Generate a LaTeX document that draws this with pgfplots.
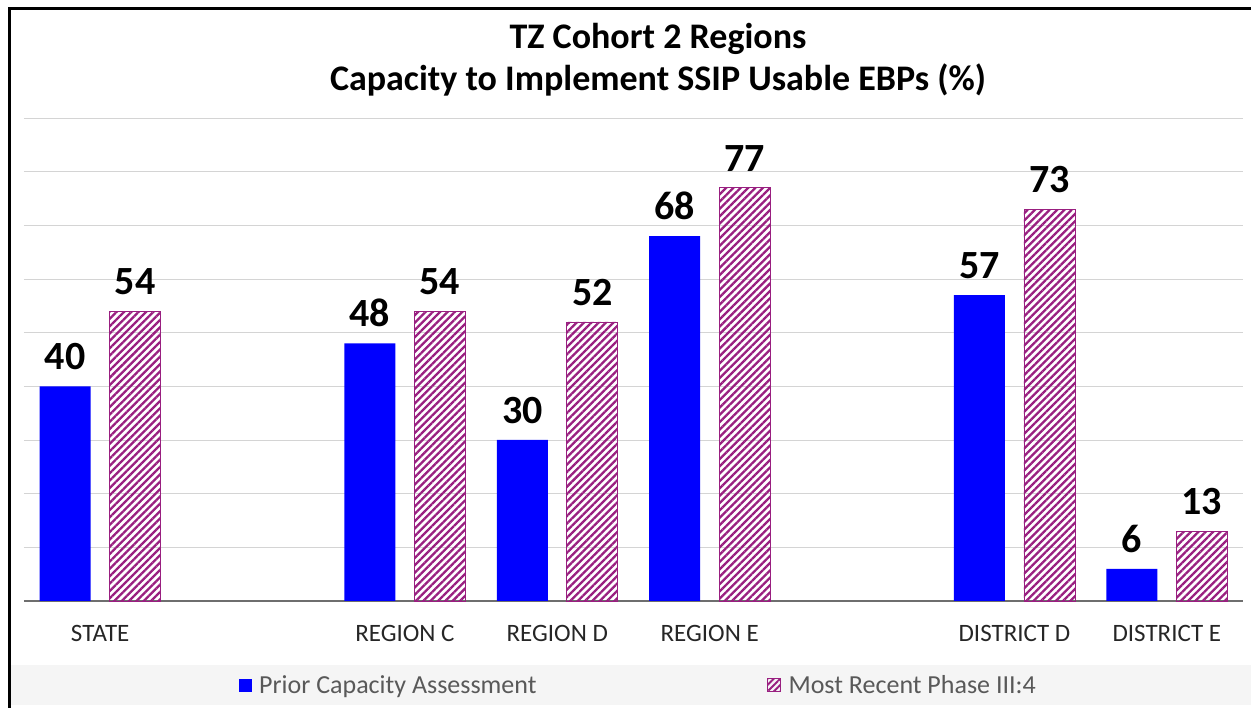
\documentclass[border=0pt]{standalone}
\usepackage{pgfplots}
\pgfplotsset{compat=1.18}
\usepackage{fontspec}
\setmainfont{Carlito}
\usetikzlibrary{patterns.meta}
\definecolor{barblue}{RGB}{0,0,255}
\definecolor{hatch}{RGB}{153,31,128}
\definecolor{legtext}{RGB}{89,89,89}
\definecolor{gridc}{RGB}{212,212,212}
\definecolor{axisc}{RGB}{110,110,110}
\definecolor{band}{RGB}{245,245,245}
\begin{document}
\begin{tikzpicture}[x=1pt,y=1pt]
\path[use as bounding box] (0,0) rectangle (1251,708);
\fill[band] (11,3) rectangle (1251,43);
\draw[line width=2.5pt] (9.5,0) -- (9.5,699.5) -- (1251,699.5);
\node[font=\fontsize{36}{40}\selectfont\bfseries, anchor=base] at (658,659) {TZ Cohort 2 Regions};
\node[font=\fontsize{36}{40}\selectfont\bfseries, anchor=base] at (658,617) {Capacity to Implement SSIP Usable EBPs (\%)};
\begin{axis}[
  at={(24pt,107pt)}, anchor=south west, scale only axis,
  width=1219pt, height=483pt,
  xmin=-0.5, xmax=7.5, ymin=0, ymax=90,
  ybar, bar width=51pt,
  axis line style={draw=none},
  major tick length=0pt,
  ytick={10,20,...,90}, yticklabels={},
  ymajorgrids, grid style={gridc, line width=0.8pt},
  extra y ticks={0}, extra y tick labels={},
  extra y tick style={grid=major, major grid style={axisc, line width=1.5pt}},
  xtick={0,2,3,4,6,7},
  xticklabels={STATE,REGION C,REGION D,REGION E,DISTRICT D,DISTRICT E},
  xticklabel style={font=\fontsize{25}{29}\selectfont, text=black!85, yshift=-21pt},
  nodes near coords,
  nodes near coords style={font=\fontsize{40}{48}\selectfont\bfseries, text=black, anchor=south, inner sep=0pt, yshift=16pt},
  /pgf/number format/assume math mode=true,
  legend columns=2,
  legend style={at={(0.5,-0.174)}, anchor=center, xshift=5pt, draw=none, fill=none,
    font=\fontsize{26}{30}\selectfont, text=legtext,
    /tikz/every odd column/.append style={column sep=5pt},
    /tikz/every even column/.append style={column sep=228pt}},
  clip=false,
]
\addplot[fill=barblue, draw=none, bar shift=-35pt,
  legend image code/.code={\fill[barblue] (0pt,-6.5pt) rectangle (13pt,6.5pt);}]
  coordinates {(0,40) (2,48) (3,30) (4,68) (6,57) (7,6)};
\addlegendentry{Prior Capacity Assessment}
\addplot[draw=hatch, line width=0.8pt, pattern={Lines[angle=45,distance=5.2pt,line width=2.3pt]}, pattern color=hatch, bar shift=35pt,
  legend image code/.code={\draw[hatch, line width=0.8pt, pattern={Lines[angle=45,distance=4.5pt,line width=2pt]}, pattern color=hatch] (0pt,-6.5pt) rectangle (13pt,6.5pt);}]
  coordinates {(0,54) (2,54) (3,52) (4,77) (6,73) (7,13)};
\addlegendentry{Most Recent Phase III:4}
\end{axis}
\end{tikzpicture}
\end{document}
